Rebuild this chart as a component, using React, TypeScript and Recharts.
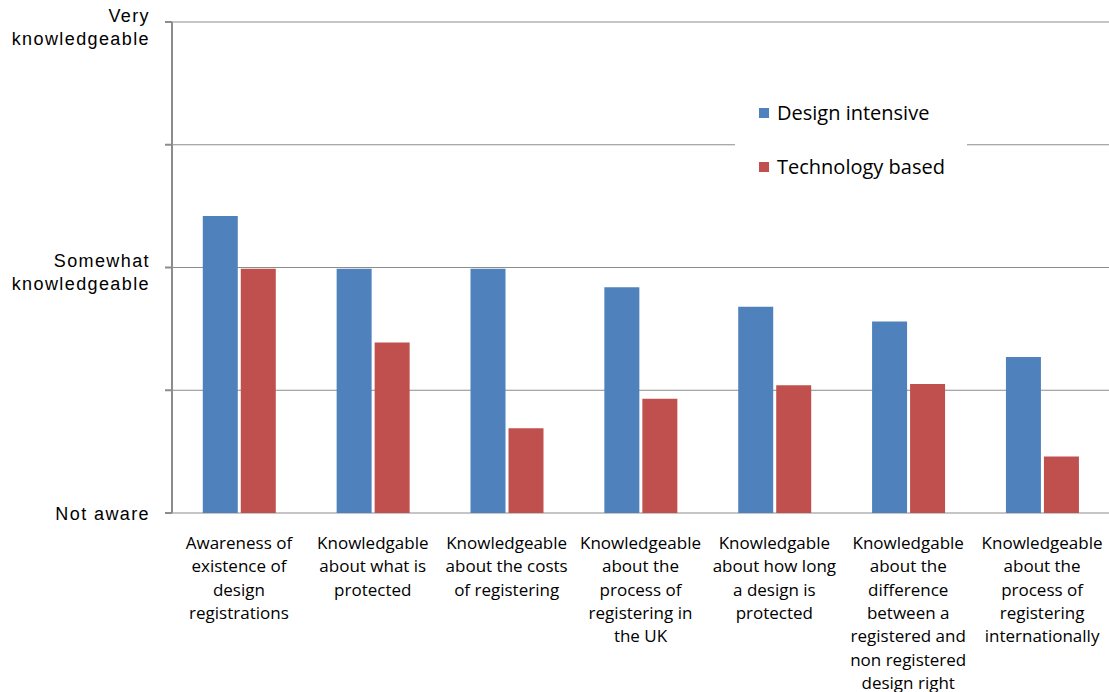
import { Bar, BarChart, CartesianGrid, Legend, XAxis, YAxis } from "recharts";

const categoryLines = [
  ["Awareness of", "existence of", "design", "registrations"],
  ["Knowledgable", "about what is", "protected"],
  ["Knowledgeable", "about the costs", "of registering"],
  ["Knowledgeable", "about the", "process of", "registering in", "the UK"],
  ["Knowledgable", "about how long", "a design is", "protected"],
  ["Knowledgable", "about the", "difference", "between a", "registered and", "non registered", "design right"],
  ["Knowledgeable", "about the", "process of", "registering", "internationally"],
];

const designIntensive = [2.42, 1.99, 1.99, 1.84, 1.68, 1.56, 1.27];
const technologyBased = [1.99, 1.39, 0.69, 0.93, 1.04, 1.05, 0.46];

const yTicks = [0, 1, 2, 3, 4];
const yLabels: Record<number, string[]> = {
  0: ["Not aware"],
  2: ["Somewhat", "knowledgeable"],
  4: ["Very", "knowledgeable"],
};

const boundaryTicks = [0, 1, 2, 3, 4, 5, 6, 7];

const data = categoryLines.map((lines, i) => ({
  name: lines.join(" "),
  idx: i,
  design: designIntensive[i],
  tech: technologyBased[i],
}));

const CategoryTick = (props: any) => {
  const { x, y, index } = props;
  const lines = categoryLines[index] || [];
  return (
    <text
      x={x}
      y={y}
      textAnchor="middle"
      fontFamily="Open Sans"
      fontSize={17}
      fill="#000"
    >
      {lines.map((l, i) => (
        <tspan key={i} x={x} y={y + 36 + i * 23.3}>
          {l}
        </tspan>
      ))}
    </text>
  );
};

const ValueTick = (props: any) => {
  const { x, y, payload } = props;
  const lines = yLabels[payload.value];
  if (!lines) return <g />;
  const start = lines.length === 1 ? y + 7 : y - 0.5;
  return (
    <text
      x={x}
      y={y}
      textAnchor="end"
      fontFamily="Liberation Sans"
      fontSize={18}
      letterSpacing={1.4}
      fill="#000"
    >
      {lines.map((l, i) => (
        <tspan key={i} x={x} y={start + i * 23}>
          {l}
        </tspan>
      ))}
    </text>
  );
};

const LegendBox = (props: any) => {
  const { payload } = props;
  return (
    <div style={{ width: 232, height: 110, background: "#fff", position: "relative" }}>
      {(payload || []).map((p: any, i: number) => (
        <div
          key={i}
          style={{
            position: "absolute",
            left: 24,
            top: 14 + i * 54,
            display: "flex",
            alignItems: "center",
            fontFamily: "Open Sans",
            fontSize: 20,
            color: "#000",
            whiteSpace: "nowrap",
          }}
        >
          <span style={{ width: 10, height: 10, background: p.color, display: "inline-block", marginRight: 8 }} />
          {p.value}
        </div>
      ))}
    </div>
  );
};

export default function App() {
  return (
    <div style={{ position: "absolute", left: 0, top: 0, background: "#fff" }}>
      <BarChart
        width={1109}
        height={692}
        data={data}
        margin={{ top: 22, right: 0, left: 0, bottom: 0 }}
        barCategoryGap="23%"
        barGap={3}
      >
        <CartesianGrid vertical={false} stroke="#8c8c8c" strokeWidth={1} />
        <XAxis
          xAxisId="edge"
          type="number"
          dataKey="idx"
          domain={[0, 7]}
          ticks={boundaryTicks}
          height={0}
          tick={() => <g />}
          tickSize={7}
          stroke="#8c8c8c"
          strokeWidth={2}
        />
        <XAxis
          dataKey="name"
          height={179}
          axisLine={false}
          tickLine={false}
          tickSize={0}
          tickMargin={0}
          interval={0}
          tick={<CategoryTick />}
        />
        <YAxis
          width={172}
          domain={[0, 4]}
          ticks={yTicks}
          tickSize={7}
          tickMargin={15}
          stroke="#8c8c8c"
          strokeWidth={2}
          tick={<ValueTick />}
          interval={0}
        />
        <Legend
          layout="vertical"
          align="center"
          verticalAlign="middle"
          content={<LegendBox />}
          wrapperStyle={{ position: "absolute", left: 735, top: 85, width: 232, height: 110 }}
        />
        <Bar dataKey="design" name="Design intensive" fill="#4F81BD" isAnimationActive={false} />
        <Bar dataKey="tech" name="Technology based" fill="#C0504D" isAnimationActive={false} />
      </BarChart>
    </div>
  );
}
